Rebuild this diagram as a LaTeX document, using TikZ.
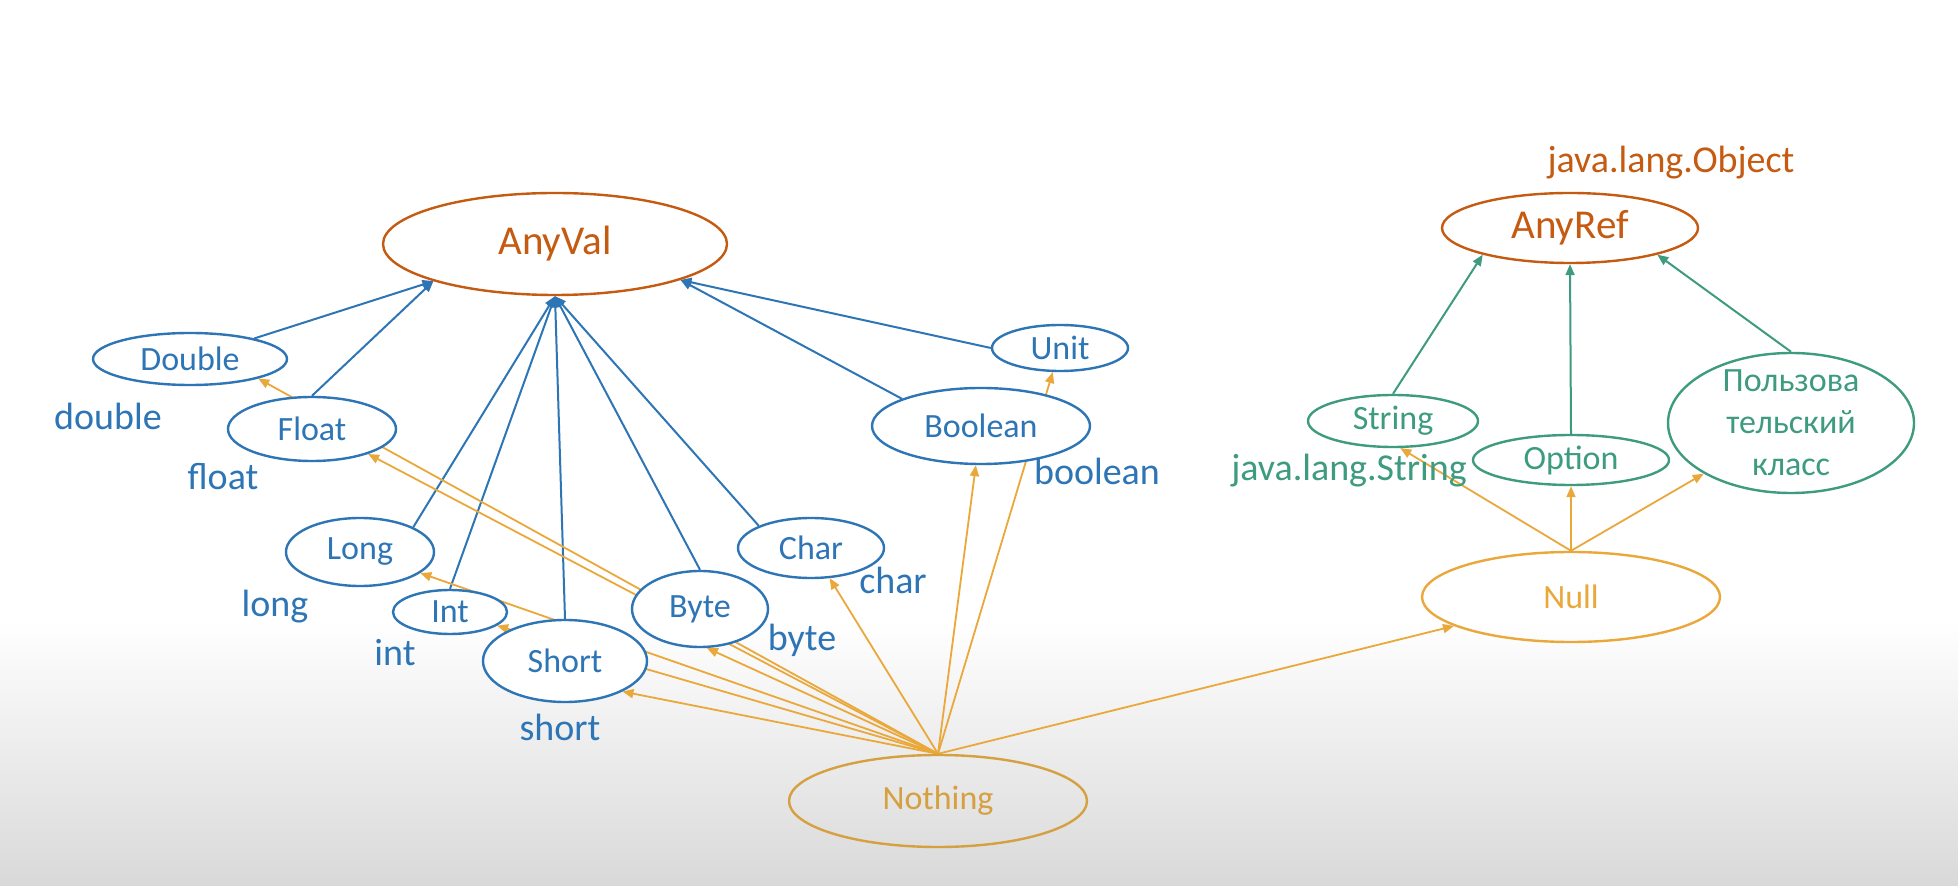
\documentclass[tikz,border=0pt]{standalone}
\usepackage{fontspec}
\setmainfont{Carlito}
\usepackage{xcolor}
\usepackage{tikz}
\usetikzlibrary{arrows.meta,
shapes.geometric}

\definecolor{valblue}{HTML}{2E75B6}
\definecolor{rootbrown}{HTML}{C55A11}
\definecolor{nullgold}{HTML}{EAA83B}
\definecolor{nothgold}{HTML}{D6A040}
\definecolor{refteal}{HTML}{3E9B80}

\pgfdeclarelayer{shade}
\pgfdeclarelayer{wires}
\pgfsetlayers{shade,wires,main}

\begin{document}
\begin{tikzpicture}[
x=0.5pt, y=-0.5pt,
>={Triangle[length=5.5pt,width=4.5pt]},
valtype/.style={
ellipse,
draw=valblue,
fill=white,
line width=1.2pt,
text=valblue,
inner sep=0pt,
font=\fontsize{17}{21}\selectfont
},
reftype/.style={valtype, draw=refteal, text=refteal},
root/.style={valtype, draw=rootbrown, text=rootbrown,
font=\fontsize{20.5}{24}\selectfont},
nulltype/.style={valtype, draw=nullgold, text=nullgold, fill=none},
lbl/.style={anchor=base, text=valblue, inner sep=0pt,
font=\fontsize{19}{23}\selectfont},
vline/.style={->, draw=valblue, line width=1pt},
rline/.style={->, draw=refteal, line width=1pt},
nline/.style={->, draw=nullgold, line width=0.9pt}
]

\useasboundingbox (0,0) rectangle (1958,886);

% Background
\begin{pgfonlayer}{shade}
\fill[white] (0,0) rectangle (1958,621);
\shade[top color=white, bottom color=black!15] (0,620) rectangle (1958,886);
\end{pgfonlayer}

% AnyVal side
\node[root, minimum width=172pt, minimum height=51pt] (anyval) at (555,244) {AnyVal};

\node[valtype, minimum width=97pt, minimum height=26pt] (double) at (190,359) {Double};
\node[valtype, minimum width=84pt, minimum height=32pt] (float) at (312,429) {Float};
\node[valtype, minimum width=74pt, minimum height=34pt] (long) at (360,552) {Long};
\node[valtype, minimum width=57pt, minimum height=22pt] (int) at (450,612) {Int};
\node[valtype, minimum width=82pt, minimum height=41pt] (short) at (565,661) {Short};
\node[valtype, minimum width=68pt, minimum height=38pt] (byte) at (700,609) {Byte};
\node[valtype, minimum width=73pt, minimum height=30pt] (char) at (811,548) {Char};
\node[valtype, minimum width=109pt, minimum height=38pt] (boolean) at (981,426) {Boolean};
\node[valtype, minimum width=68pt, minimum height=23pt] (unit) at (1060,348) {Unit};

% Java names
\node[lbl] (doublelbl) at (108,430) {double};
\node[lbl] (floatlbl) at (223,490) {float};
\node[lbl] (longlbl) at (275,617) {long};
\node[lbl] (intlbl) at (395,665) {int};
\node[lbl] (shortlbl) at (560,740) {short};
\node[lbl] (bytelbl) at (802,650) {byte};
\node[lbl] (charlbl) at (893,594) {char};
\node[lbl] (booleanlbl) at (1097,485) {boolean};

% AnyRef side
\node[root, minimum width=128pt, minimum height=35pt] (anyref) at (1570,228) {AnyRef};
\node[lbl, text=rootbrown] (objectlbl) at (1671,173) {java.lang.Object};

\node[reftype, minimum width=85pt, minimum height=26pt] (string) at (1393,421) {String};
\node[reftype, minimum width=98pt, minimum height=25pt] (option) at (1571,460) {Option};
\node[reftype, minimum width=123pt, minimum height=70pt, inner sep=-2pt,
align=center] (userclass) at (1791,423) {Пользова\\тельский\\класс};
\node[lbl, text=refteal] (stringlbl) at (1349,481) {java.lang.String};

% Bottom types
\node[nulltype, minimum width=149pt, minimum height=45pt] (null) at (1571,597) {Null};
\node[nulltype, draw=nothgold, text=nothgold,
minimum width=149pt, minimum height=46pt] (nothing) at (938,801) {Nothing};

% Connections
\begin{pgfonlayer}{wires}
\draw[vline] (double) -- (anyval.197);
\draw[vline] (float.north) -- (anyval.197);
\draw[vline] (long.25) -- (anyval.south);
\draw[vline] (int.north) -- (anyval.south);
\draw[vline] (short.north) -- (anyval.south);
\draw[vline] (byte.north) -- (anyval.south);
\draw[vline] (char.157) -- (anyval.south);
\draw[vline] (boolean.161) -- (anyval.-16);
\draw[vline] (unit.west) -- (anyval.-16);

\draw[rline] (string.north) -- (anyref.197);
\draw[rline] (option.north) -- (anyref.south);
\draw[rline] (userclass.north) -- (anyref.-17);

\draw[nline] (null.north) -- (string.-75);
\draw[nline] (null.north) -- (option.south);
\draw[nline] (null.north) -- (userclass);

\draw[nline] (nothing.north) -- (double.-16);
\draw[nline] (nothing.north) -- (float.-24);
\draw[nline] (nothing.north) -- (long);
\draw[nline] (nothing.north) -- (int);
\draw[nline] (nothing.north) -- (short.-28);
\draw[nline] (nothing.north) -- (byte.-80);
\draw[nline] (nothing.north) -- (char);
\draw[nline] (nothing.north) -- (boolean);
\draw[nline] (nothing.north) -- (unit);
\draw[nline] (nothing.north) -- (null);
\end{pgfonlayer}

\end{tikzpicture}
\end{document}
